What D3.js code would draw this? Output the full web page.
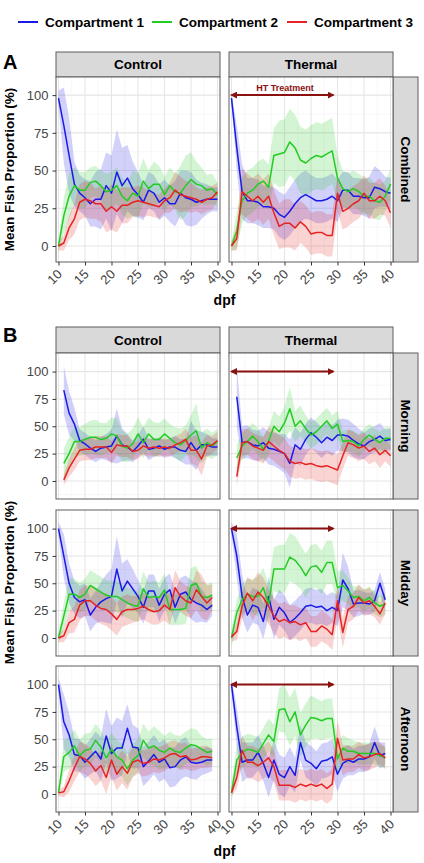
<!DOCTYPE html>
<html>
<head>
<meta charset="utf-8">
<script src="https://cdn.jsdelivr.net/npm/d3@7"></script>
<style>
  body { margin: 0; background: #fff; }
  svg { font-family: "Liberation Sans", Arial, sans-serif; display: block; }
</style>
</head>
<body>
<svg id="chart"></svg>
<script>
// Fish proportion per compartment, control vs thermal, by day post fertilisation

var width = 424,
    height = 863;

var compartments = ["Compartment 1", "Compartment 2", "Compartment 3"];
var colors = ["#1a1ae6", "#22cc22", "#e62222"];
var treatments = ["Control", "Thermal"];
var xTicks = [10, 15, 20, 25, 30, 35, 40];
var yTicks = [0, 25, 50, 75, 100];
var htWindow = [10, 29.2];   // HT treatment arrow, dpf

var daysFull = [10,11,12,13,14,15,16,17,18,19,20,21,22,23,24,25,26,27,28,29,30,31,32,33,34,35,36,37,38,39,40];
var daysMorning = [11,12,13,14,15,16,17,18,19,20,21,22,23,24,25,26,27,28,29,30,31,32,33,34,35,36,37,38,39,40];
var daysTo39 = [10,11,12,13,14,15,16,17,18,19,20,21,22,23,24,25,26,27,28,29,30,31,32,33,34,35,36,37,38,39];

// --- Combined (means and ribbon half-widths) ---
var combinedCtl1 = [98,80,60,41,35,32,28,31,31,40,35,49,40,45,38,34,29,37,35,29,32,28,28,35,32,31,29,30,31,31,31];
var combinedCtlSd1 = [5,25,25,15,12,12,15,18,20,22,25,28,25,22,18,15,12,12,12,12,12,12,15,15,18,18,15,12,10,8,8];
var combinedCtl2 = [0,20,33,40,37,37,42,43,40,36,37,40,33,30,35,33,43,38,41,41,34,40,36,35,40,44,41,40,37,38,34];
var combinedCtlSd2 = [4,12,15,12,12,12,10,10,10,12,12,12,12,12,15,15,15,12,15,12,12,12,12,18,20,18,15,12,10,10,8];
var combinedCtl3 = [0,2,12,18,29,31,30,28,28,23,26,23,27,27,29,30,29,28,27,26,30,32,37,34,33,32,31,29,31,32,36];
var combinedCtlSd3 = [3,5,8,10,12,12,12,10,12,14,15,14,12,12,10,10,10,8,8,8,8,10,12,12,10,10,8,8,8,8,6];

var combinedThm1 = [98,65,36,30,30,29,26,26,25,21,19,23,28,32,34,32,30,30,31,33,30,37,37,33,33,32,32,39,38,36,35];
var combinedThmSd1 = [3,15,18,15,15,15,14,14,14,15,15,16,16,16,16,15,15,15,15,15,14,12,12,12,12,12,14,14,12,10,10];
var combinedThm2 = [0,10,30,35,37,41,43,39,60,61,62,69,65,57,55,58,60,59,61,63,45,38,36,38,36,33,33,30,29,33,41];
var combinedThmSd2 = [3,12,15,15,15,15,15,15,18,22,22,22,22,22,22,22,22,22,22,22,15,12,12,12,12,12,12,12,12,10,10];
var combinedThm3 = [0,5,36,33,30,33,29,33,22,13,15,15,12,16,13,8,9,9,7,7,35,23,25,28,30,35,30,30,33,30,22];
var combinedThmSd3 = [3,8,15,15,15,15,15,15,15,15,16,16,15,14,14,14,14,14,14,14,12,12,12,12,12,12,12,12,12,10,10];

// --- Morning ---
var morningCtl1 = [83,62,52,37,34,30,27,30,31,32,41,33,31,27,32,38,29,30,32,29,31,31,28,27,35,28,33,33,31,31];
var morningCtlSd1 = [22,20,15,10,10,10,10,10,12,15,25,15,12,10,10,12,10,8,8,8,8,10,10,12,20,18,12,10,8,8];
var morningCtl2 = [16,25,36,36,38,40,40,38,39,43,41,32,30,34,43,35,43,38,38,43,39,35,33,37,42,46,30,35,32,36];
var morningCtlSd2 = [14,15,14,13,14,15,16,15,14,15,16,14,13,14,15,14,15,16,15,14,13,14,15,14,18,25,14,13,12,12];
var morningCtl3 = [1,12,20,28,29,29,31,31,31,26,33,32,32,27,28,32,30,31,30,31,30,33,35,38,28,28,20,32,33,37];
var morningCtlSd3 = [5,8,10,10,10,10,10,10,10,10,10,10,10,8,8,8,8,8,8,8,8,8,8,10,12,14,15,10,8,8];

var morningThm1 = [77,35,36,33,32,35,30,29,27,25,16,33,29,38,44,40,35,40,37,42,42,41,37,34,32,36,38,41,37,38];
var morningThmSd1 = [28,15,15,14,14,14,15,15,16,18,22,16,15,14,14,14,14,14,14,14,15,15,15,14,12,12,12,12,10,10];
var morningThm2 = [21,32,36,41,36,29,36,50,45,53,66,50,55,48,42,45,50,55,48,52,36,37,36,32,38,42,38,35,39,39];
var morningThmSd2 = [12,12,12,12,12,12,12,14,14,15,20,14,14,12,12,12,12,12,12,12,10,10,10,10,10,10,10,10,10,10];
var morningThm3 = [4,35,36,32,30,28,36,32,28,25,18,16,17,15,16,14,13,14,12,10,23,35,33,30,32,27,30,24,28,23];
var morningThmSd3 = [8,12,12,12,12,12,14,14,14,14,14,14,14,14,14,14,14,14,14,14,12,12,12,12,12,12,12,12,10,10];

// --- Midday ---
var middayCtl1 = [100,75,50,37,33,35,21,28,33,36,38,63,43,52,45,38,28,43,43,30,40,44,28,40,42,35,32,30,26,30];
var middayCtlSd1 = [6,20,18,15,15,15,15,15,18,22,25,30,25,20,18,15,15,15,15,15,15,15,15,15,15,18,18,15,12,10];
var middayCtl2 = [0,20,40,40,37,40,48,45,42,39,38,38,35,32,30,29,45,37,38,37,44,26,26,26,27,48,50,38,37,39];
var middayCtlSd2 = [5,12,15,14,14,14,14,14,14,14,14,14,14,14,14,14,16,14,14,14,15,14,14,14,14,16,16,14,12,12];
var middayCtl3 = [0,2,14,17,30,34,34,30,27,26,22,17,24,26,26,27,29,26,24,25,30,26,46,38,34,32,44,38,32,37];
var middayCtlSd3 = [4,6,10,12,14,14,14,14,14,15,15,15,14,14,12,12,12,12,12,12,14,14,16,14,14,14,18,20,16,12];

var middayThm1 = [100,75,38,21,30,28,15,38,17,28,23,14,18,23,29,30,28,29,25,28,25,53,45,31,32,32,31,34,50,35];
var middayThmSd1 = [6,20,20,16,16,16,16,18,18,16,16,16,16,16,16,16,16,16,14,14,14,25,20,12,12,10,10,10,10,10];
var middayThm2 = [0,23,35,40,38,38,46,31,63,63,63,74,71,65,57,65,66,60,69,69,46,48,43,37,38,34,37,32,29,31];
var middayThmSd2 = [8,12,14,14,16,18,18,18,20,22,22,22,22,20,20,20,20,20,20,20,15,14,12,10,10,10,10,10,10,10];
var middayThm3 = [1,6,29,41,34,42,37,29,20,15,17,14,15,12,14,6,6,11,8,3,34,5,26,29,37,32,34,29,22,32];
var middayThmSd3 = [4,8,12,15,18,18,18,16,16,16,16,16,15,15,14,14,14,14,14,14,15,14,12,12,12,12,12,10,10,10];

// --- Afternoon ---
var afternoonCtl1 = [100,66,54,36,35,29,34,39,32,53,37,42,42,60,43,42,25,30,36,29,32,24,25,31,34,29,28,29,31,31];
var afternoonCtlSd1 = [6,25,20,15,15,15,16,18,20,25,25,28,25,22,20,18,18,18,18,18,18,18,18,18,18,15,15,12,12,10];
var afternoonCtl2 = [1,34,38,44,35,40,41,49,43,33,41,34,31,23,31,35,49,42,44,40,38,42,39,38,42,45,44,41,38,39];
var afternoonCtlSd2 = [5,14,15,15,15,15,15,15,15,15,15,15,15,15,15,15,15,15,18,18,15,15,15,15,15,15,15,12,12,12];
var afternoonCtl3 = [1,2,12,24,34,32,28,21,26,15,31,18,25,19,29,31,28,29,32,31,33,36,37,34,35,31,32,34,34,33];
var afternoonCtlSd3 = [3,5,10,12,14,14,14,14,14,15,15,15,15,15,14,12,12,12,12,12,12,12,12,12,12,10,10,10,10,8];

var afternoonThm1 = [100,61,29,31,31,38,28,15,31,18,15,25,17,47,31,28,23,30,31,34,18,28,31,29,32,32,34,47,35,37];
var afternoonThmSd1 = [6,18,18,16,16,16,16,18,18,18,18,18,16,16,16,16,16,16,16,16,16,14,14,12,12,12,12,15,12,10];
var afternoonThm2 = [1,31,38,41,40,38,46,54,48,77,78,66,75,54,63,70,69,67,69,69,32,42,39,39,37,37,37,37,35,33];
var afternoonThmSd2 = [8,14,14,14,14,14,14,15,15,20,22,22,22,20,20,20,18,18,18,18,14,12,12,10,10,10,10,10,10,10];
var afternoonThm3 = [1,15,40,29,29,26,29,33,25,8,8,8,6,9,7,9,7,9,5,9,51,31,32,32,36,33,34,36,37,33];
var afternoonThmSd3 = [3,10,14,15,15,15,15,15,15,14,14,14,14,14,14,14,14,14,14,14,16,14,12,12,12,12,12,12,10,10];

// panel rows built from the arrays above
var rows = [
  { section: 0, label: "Combined", days: daysFull, top: 77, bottom: 262,
    control: [[combinedCtl1, combinedCtlSd1], [combinedCtl2, combinedCtlSd2], [combinedCtl3, combinedCtlSd3]],
    thermal: [[combinedThm1, combinedThmSd1], [combinedThm2, combinedThmSd2], [combinedThm3, combinedThmSd3]] },
  { section: 1, label: "Morning", days: daysMorning, top: 353, bottom: 499,
    control: [[morningCtl1, morningCtlSd1], [morningCtl2, morningCtlSd2], [morningCtl3, morningCtlSd3]],
    thermal: [[morningThm1, morningThmSd1], [morningThm2, morningThmSd2], [morningThm3, morningThmSd3]] },
  { section: 1, label: "Midday", days: daysTo39, top: 510, bottom: 656,
    control: [[middayCtl1, middayCtlSd1], [middayCtl2, middayCtlSd2], [middayCtl3, middayCtlSd3]],
    thermal: [[middayThm1, middayThmSd1], [middayThm2, middayThmSd2], [middayThm3, middayThmSd3]] },
  { section: 1, label: "Afternoon", days: daysTo39, top: 666, bottom: 812,
    control: [[afternoonCtl1, afternoonCtlSd1], [afternoonCtl2, afternoonCtlSd2], [afternoonCtl3, afternoonCtlSd3]],
    thermal: [[afternoonThm1, afternoonThmSd1], [afternoonThm2, afternoonThmSd2], [afternoonThm3, afternoonThmSd3]] }
];

var sections = [
  { letter: "A", letterY: 69, stripTop: 52, stripBottom: 77, yDomain: [-10.6, 112], dpfY: 305 },
  { letter: "B", letterY: 342, stripTop: 327, stripBottom: 353, yDomain: [-16.5, 117], dpfY: 856 }
];

var cols = [[56, 220], [229, 393]],
    xDomain = [9.53, 40.47],
    stripW = 25,
    borderColor = "#5e5e5e",
    stripFill = "#d9d9d9",
    arrowColor = "#8b1111";

var svg = d3.select("#chart")
    .attr("width", width)
    .attr("height", height);

var defs = svg.append("defs");
defs.append("marker")
    .attr("id", "ht-arrow")
    .attr("viewBox", "0 0 10 10")
    .attr("refX", 8)
    .attr("refY", 5)
    .attr("markerWidth", 3.6)
    .attr("markerHeight", 3.6)
    .attr("orient", "auto-start-reverse")
  .append("path")
    .attr("d", "M0,0L10,5L0,10z")
    .attr("fill", arrowColor);

// legend
var legendX = [18, 152, 287];
var legend = svg.append("g").attr("class", "legend");
compartments.forEach(function(name, i) {
  legend.append("line")
      .attr("x1", legendX[i]).attr("x2", legendX[i] + 20)
      .attr("y1", 22).attr("y2", 22)
      .attr("stroke", colors[i]).attr("stroke-width", 2);
  legend.append("text")
      .attr("x", legendX[i] + 27).attr("y", 27)
      .style("font-size", "13.5px").style("font-weight", "bold")
      .text(name);
});

// section letters, column strips, axis titles
sections.forEach(function(sec, si) {
  svg.append("text")
      .attr("x", 3).attr("y", sec.letterY)
      .style("font-size", "20px").style("font-weight", "bold")
      .text(sec.letter);

  cols.forEach(function(c, ci) {
    svg.append("rect")
        .attr("x", c[0]).attr("y", sec.stripTop)
        .attr("width", c[1] - c[0]).attr("height", sec.stripBottom - sec.stripTop)
        .attr("fill", stripFill).attr("stroke", borderColor).attr("stroke-width", 1);
    svg.append("text")
        .attr("x", (c[0] + c[1]) / 2).attr("y", (sec.stripTop + sec.stripBottom) / 2)
        .attr("dy", "0.36em")
        .attr("text-anchor", "middle")
        .style("font-size", "13.5px").style("font-weight", "bold")
        .text(treatments[ci]);
  });

  var secRows = rows.filter(function(r) { return r.section === si; });
  var midY = (secRows[0].top + secRows[secRows.length - 1].bottom) / 2;
  svg.append("text")
      .attr("transform", "translate(9," + midY + ") rotate(-90)")
      .attr("dy", "0.36em")
      .attr("text-anchor", "middle")
      .style("font-size", "13.5px").style("font-weight", "bold")
      .text("Mean Fish Proportion (%)");

  svg.append("text")
      .attr("x", (cols[0][0] + cols[1][1]) / 2).attr("y", sec.dpfY)
      .attr("text-anchor", "middle")
      .style("font-size", "14px").style("font-weight", "bold")
      .text("dpf");
});

var line = d3.line().x(function(d) { return d.x; }).y(function(d) { return d.y; });
var area = d3.area().x(function(d) { return d.x; }).y0(function(d) { return d.y0; }).y1(function(d) { return d.y1; });

rows.forEach(function(row, ri) {
  var sec = sections[row.section];
  var isLast = ri === rows.length - 1 || rows[ri + 1].section !== row.section;
  var y = d3.scaleLinear().domain(sec.yDomain).range([row.bottom, row.top]);

  // right-hand strip
  svg.append("rect")
      .attr("x", cols[1][1]).attr("y", row.top)
      .attr("width", stripW).attr("height", row.bottom - row.top)
      .attr("fill", stripFill).attr("stroke", borderColor).attr("stroke-width", 1);
  svg.append("text")
      .attr("transform", "translate(" + (cols[1][1] + stripW / 2) + "," + (row.top + row.bottom) / 2 + ") rotate(90)")
      .attr("dy", "0.36em")
      .attr("text-anchor", "middle")
      .style("font-size", "13.5px").style("font-weight", "bold")
      .text(row.label);

  cols.forEach(function(c, ci) {
    var x = d3.scaleLinear().domain(xDomain).range(c);
    var g = svg.append("g").attr("class", "panel");
    var clipId = "clip-" + ri + "-" + ci;
    defs.append("clipPath").attr("id", clipId)
      .append("rect")
        .attr("x", c[0]).attr("y", row.top)
        .attr("width", c[1] - c[0]).attr("height", row.bottom - row.top);

    g.append("rect")
        .attr("x", c[0]).attr("y", row.top)
        .attr("width", c[1] - c[0]).attr("height", row.bottom - row.top)
        .attr("fill", "#fff");

    // grid: minor then major
    var xMinor = xTicks.slice(1).map(function(t, i) { return (t + xTicks[i]) / 2; });
    var yMinor = yTicks.slice(1).map(function(t, i) { return (t + yTicks[i]) / 2; })
        .concat([yTicks[0] - 12.5]).filter(function(v) { return v > sec.yDomain[0]; });
    g.selectAll(".xminor").data(xMinor).enter().append("line")
        .attr("x1", x).attr("x2", x).attr("y1", row.top).attr("y2", row.bottom)
        .attr("stroke", "#f2f2f2").attr("stroke-width", 0.6);
    g.selectAll(".yminor").data(yMinor).enter().append("line")
        .attr("x1", c[0]).attr("x2", c[1]).attr("y1", y).attr("y2", y)
        .attr("stroke", "#f2f2f2").attr("stroke-width", 0.6);
    g.selectAll(".xmajor").data(xTicks).enter().append("line")
        .attr("x1", x).attr("x2", x).attr("y1", row.top).attr("y2", row.bottom)
        .attr("stroke", "#e6e6e6").attr("stroke-width", 1.1);
    g.selectAll(".ymajor").data(yTicks).enter().append("line")
        .attr("x1", c[0]).attr("x2", c[1]).attr("y1", y).attr("y2", y)
        .attr("stroke", "#e6e6e6").attr("stroke-width", 1.1);

    var series = ci === 0 ? row.control : row.thermal;
    var data = series.map(function(s) {
      return row.days.map(function(d, i) {
        return { x: x(d), y: y(s[0][i]), y0: y(s[0][i] - s[1][i]), y1: y(s[0][i] + s[1][i]) };
      });
    });

    var plot = g.append("g").attr("clip-path", "url(#" + clipId + ")");
    plot.selectAll(".ribbon").data(data).enter().append("path")
        .attr("class", "ribbon")
        .attr("d", area)
        .attr("fill", function(d, i) { return colors[i]; })
        .attr("fill-opacity", 0.2);
    plot.selectAll(".series").data(data).enter().append("path")
        .attr("class", "series")
        .attr("d", line)
        .attr("fill", "none")
        .attr("stroke", function(d, i) { return colors[i]; })
        .attr("stroke-width", 1.5)
        .attr("stroke-linejoin", "round");

    // HT treatment arrow on thermal panels
    if (ci === 1) {
      g.append("line")
          .attr("x1", x(htWindow[0])).attr("x2", x(htWindow[1]))
          .attr("y1", y(100)).attr("y2", y(100))
          .attr("stroke", arrowColor).attr("stroke-width", 2)
          .attr("marker-start", "url(#ht-arrow)")
          .attr("marker-end", "url(#ht-arrow)");
      if (row.section === 0) {
        g.append("text")
            .attr("x", x((htWindow[0] + htWindow[1]) / 2 + 0.5)).attr("y", y(105))
            .attr("dy", "0.36em")
            .attr("text-anchor", "middle")
            .attr("fill", arrowColor)
            .style("font-size", "9px").style("font-weight", "bold")
            .text("HT Treatment");
      }
    }

    g.append("rect")
        .attr("x", c[0]).attr("y", row.top)
        .attr("width", c[1] - c[0]).attr("height", row.bottom - row.top)
        .attr("fill", "none").attr("stroke", borderColor).attr("stroke-width", 1);

    // y axis on control column
    if (ci === 0) {
      var ya = g.append("g")
          .attr("transform", "translate(" + c[0] + ",0)")
          .call(d3.axisLeft(y).tickValues(yTicks).tickSize(3.5).tickPadding(4));
      ya.select(".domain").remove();
      ya.selectAll("line").attr("stroke", "#333");
      ya.selectAll("text").attr("fill", "#444").style("font-size", "13px")
          .style("font-family", "'Liberation Sans', Arial, sans-serif");
    }

    // x axis on the last row of each section
    if (isLast) {
      var xa = g.append("g")
          .attr("transform", "translate(0," + row.bottom + ")")
          .call(d3.axisBottom(x).tickValues(xTicks).tickSize(3.5));
      xa.select(".domain").remove();
      xa.selectAll("line").attr("stroke", "#333");
      xa.selectAll("text")
          .attr("x", null).attr("y", null).attr("dy", null)
          .attr("transform", "translate(4,13) rotate(-45)")
          .style("text-anchor", "end")
          .attr("fill", "#444").style("font-size", "13px")
          .style("font-family", "'Liberation Sans', Arial, sans-serif");
    }
  });
});
</script>
</body>
</html>
